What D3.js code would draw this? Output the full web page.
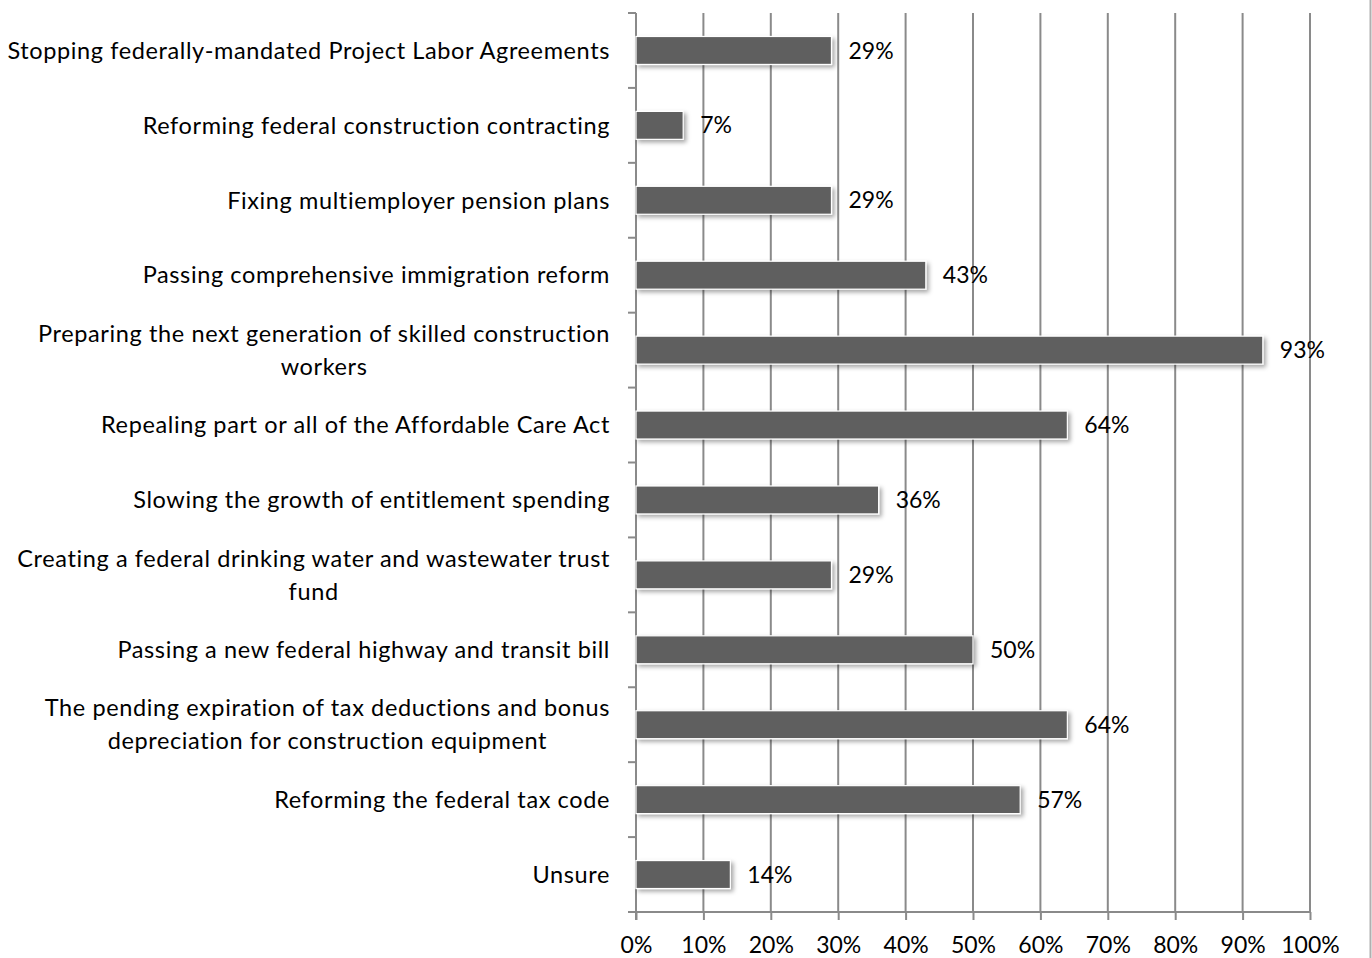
<!DOCTYPE html>
<html>
<head>
<meta charset="utf-8">
<script src="https://cdn.jsdelivr.net/npm/d3@7"></script>
<style>
  html, body { margin: 0; padding: 0; background: #fff; }
  svg { display: block; }
  text { font-family: "Lato", "Open Sans", sans-serif; fill: #000; }
</style>
</head>
<body>
<svg id="chart" width="1372" height="958"></svg>
<script>
// Survey topics (top to bottom), each as one or two display lines
const categories = [
  ["Stopping federally-mandated Project Labor Agreements"],
  ["Reforming federal construction contracting"],
  ["Fixing multiemployer pension plans"],
  ["Passing comprehensive immigration reform"],
  ["Preparing the next generation of skilled construction", "workers"],
  ["Repealing part or all of the Affordable Care Act"],
  ["Slowing the growth of entitlement spending"],
  ["Creating a federal drinking water and wastewater trust", "fund"],
  ["Passing a new federal highway and transit bill"],
  ["The pending expiration of tax deductions and bonus", "depreciation for construction equipment"],
  ["Reforming the federal tax code"],
  ["Unsure"]
];
// Share of respondents (percent)
const values = [29, 7, 29, 43, 93, 64, 36, 29, 50, 64, 57, 14];
// Axis ticks (percent)
const tickValues = [0, 10, 20, 30, 40, 50, 60, 70, 80, 90, 100];

const svg = d3.select("#chart");
const plotL = 636, plotR = 1310, plotT = 13, plotB = 912;
const gridColor = "#8a8a8a";
const labelRight = 610, labelLeftMost = 8, lineGap = 33;
const fs = 23.5, numFs = 23;

// letter spacing so the widest category line spans the label area
const probe = svg.append("text").attr("font-size", fs);
let widest = 0, widestChars = 1;
categories.flat().forEach(s => {
  probe.text(s);
  const w = probe.node().getComputedTextLength();
  if (w > widest) { widest = w; widestChars = s.length; }
});
probe.remove();
const ls = Math.max(0, ((labelRight - labelLeftMost) - widest) / (widestChars - 1));

const x = d3.scaleLinear().domain([0, 100]).range([plotL, plotR]);
const y = d3.scaleBand().domain(d3.range(categories.length)).range([plotT, plotB]).paddingInner(0.627).paddingOuter(0.3135);

// drop shadow for bars
const defs = svg.append("defs");
const f = defs.append("filter").attr("id", "shadow").attr("x", "-10%").attr("y", "-30%").attr("width", "130%").attr("height", "180%");
f.append("feDropShadow").attr("dx", 2.5).attr("dy", 2.5).attr("stdDeviation", 2).attr("flood-color", "#000").attr("flood-opacity", 0.35);

// right frame edge
svg.append("line").attr("x1", 1370.5).attr("x2", 1370.5).attr("y1", 0).attr("y2", 958)
  .attr("stroke", "#b0b0b0").attr("stroke-width", 2);

// vertical gridlines
svg.append("g").selectAll("line").data(tickValues.slice(1)).join("line")
  .attr("x1", d => x(d)).attr("x2", d => x(d))
  .attr("y1", plotT).attr("y2", plotB)
  .attr("stroke", gridColor).attr("stroke-width", 2);

// bottom axis
const xAxis = d3.axisBottom(x).tickValues(tickValues).tickFormat(d => d + "%").tickSize(8).tickSizeOuter(0).tickPadding(17);
const gx = svg.append("g").attr("transform", `translate(0,${plotB})`).call(xAxis);
gx.select(".domain").remove();
gx.append("line").attr("x1", plotL - 8).attr("x2", plotR).attr("stroke", gridColor).attr("stroke-width", 2);
gx.selectAll(".tick line").attr("stroke", gridColor).attr("stroke-width", 2);
gx.selectAll(".tick text").attr("font-size", numFs).attr("font-family", "Lato, 'Open Sans', sans-serif").attr("fill", "#000");

// left axis with ticks between categories
const step = (plotB - plotT) / categories.length;
const gy = svg.append("g");
gy.append("line").attr("x1", plotL).attr("x2", plotL).attr("y1", plotT).attr("y2", plotB + 8)
  .attr("stroke", gridColor).attr("stroke-width", 2);
gy.selectAll("line.tk").data(d3.range(categories.length + 1)).join("line").attr("class", "tk")
  .attr("x1", plotL - 8).attr("x2", plotL).attr("y1", i => plotT + i * step).attr("y2", i => plotT + i * step)
  .attr("stroke", gridColor).attr("stroke-width", 2);

// bars
svg.append("g").selectAll("rect").data(values).join("rect")
  .attr("x", x(0)).attr("y", (d, i) => y(i))
  .attr("width", d => x(d) - x(0)).attr("height", y.bandwidth())
  .attr("fill", "#5f5f5f").attr("stroke", "#fff").attr("stroke-width", 1.2)
  .attr("filter", "url(#shadow)");

// value labels
svg.append("g").selectAll("text").data(values).join("text")
  .attr("x", d => x(d) + 17).attr("y", (d, i) => y(i) + y.bandwidth() / 2)
  .attr("dy", "0.35em").attr("font-size", numFs).text(d => d + "%");

// category labels: block right-aligned, lines centered within block
const lg = svg.append("g");
categories.forEach((lines, i) => {
  const cy = y(i) + y.bandwidth() / 2;
  const t = lg.append("text").attr("font-size", fs).attr("letter-spacing", ls).attr("text-anchor", "middle");
  const spans = lines.map(ln => t.append("tspan").text(ln));
  const w = d3.max(spans, s => s.node().getComputedTextLength());
  const cx = labelRight - w / 2;
  spans.forEach((s, k) => {
    s.attr("x", cx).attr("y", cy + (k - (lines.length - 1) / 2) * lineGap).attr("dy", "0.35em");
  });
});
</script>
</body>
</html>
